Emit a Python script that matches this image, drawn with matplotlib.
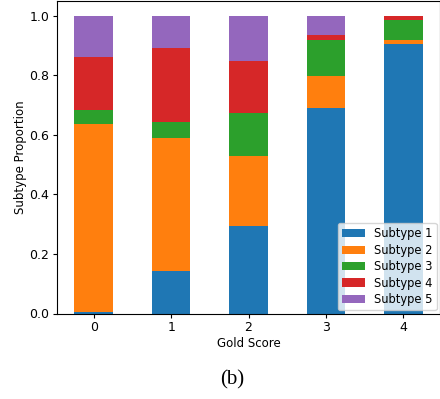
import numpy as np
import matplotlib.pyplot as plt

# Gold score categories and stacked subtype proportions
scores = [0, 1, 2, 3, 4]
subtype1 = [0.005, 0.143, 0.294, 0.692, 0.907]
subtype2 = [0.632, 0.448, 0.236, 0.106, 0.013]
subtype3 = [0.048, 0.053, 0.144, 0.122, 0.067]
subtype4 = [0.177, 0.248, 0.175, 0.016, 0.013]
subtype5 = [0.138, 0.108, 0.151, 0.064, 0.000]
labels = ['Subtype 1', 'Subtype 2', 'Subtype 3', 'Subtype 4', 'Subtype 5']

series = [subtype1, subtype2, subtype3, subtype4, subtype5]
colors = ['#1f77b4', '#ff7f0e', '#2ca02c', '#d62728', '#9467bd']

fig = plt.figure(figsize=(4.4, 3.99), dpi=100)
ax = fig.add_axes([57 / 440, 1 - 313.5 / 399, 383 / 440, 312.5 / 399])

bottom = np.zeros(len(scores))
for vals, lab, c in zip(series, labels, colors):
    ax.bar(scores, vals, width=0.5, bottom=bottom, label=lab, color=c)
    bottom += np.array(vals)

ax.set_ylim(0, 1.05)
ax.set_xticks(scores)
ax.tick_params(labelsize=9, length=3, pad=2.5)
ax.set_xlabel('Gold Score', fontsize=8.5, labelpad=2)
ax.set_ylabel('Subtype Proportion', fontsize=8.5, labelpad=2)
ax.legend(loc='lower right', fontsize=8.3, borderaxespad=0.3,
          labelspacing=0.3, borderpad=0.35)

fig.text(232 / 440, 1 - 380 / 399, '(b)', ha='center', va='center',
         family='Liberation Serif', fontsize=15)

fig.savefig('out.png', dpi=100)
